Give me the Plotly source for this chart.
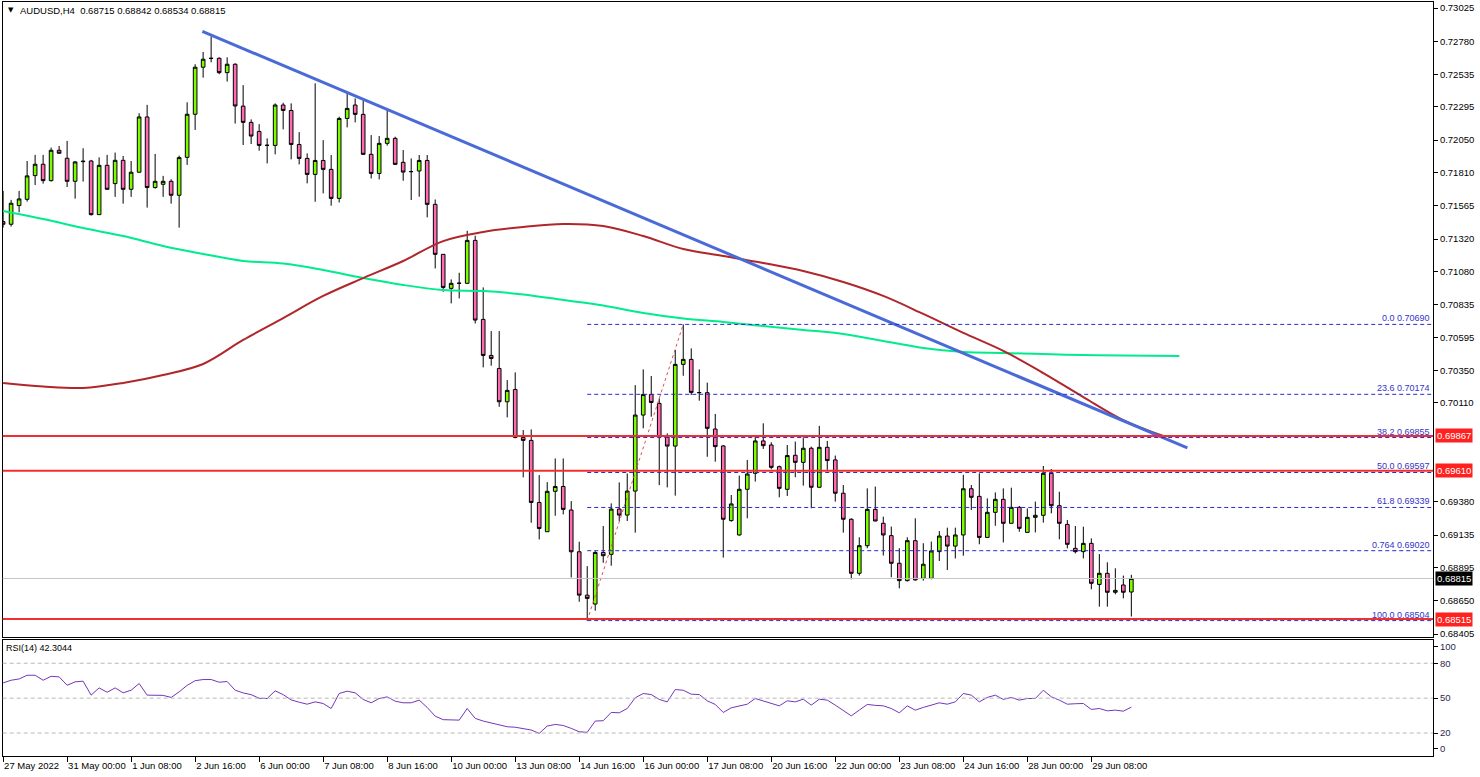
import plotly.graph_objects as go

# ---------------- data ----------------
opens = [0.71449,0.71429,0.71567,0.71613,0.71788,0.71872,0.71751,0.71975,0.71916,0.71746,
         0.71891,0.71896,0.71500,0.71864,0.71729,0.71901,0.71687,0.71813,0.72221,0.71700,
         0.71724,0.71746,0.71643,0.71923,0.72241,0.72588,0.72652,0.72654,0.72548,0.72610,
         0.72301,0.72181,0.72114,0.72011,0.72011,0.72309,0.72269,0.72018,0.71915,0.71797,
         0.71900,0.71834,0.71620,0.72210,0.72309,0.72240,0.71945,0.71804,0.72026,0.72063,
         0.71886,0.71817,0.71822,0.71900,0.71576,0.71207,0.70956,0.70993,0.70993,0.71310,
         0.70727,0.70461,0.70365,0.70119,0.70210,0.69856,0.69834,0.69376,0.69160,0.69458,
         0.69494,0.69320,0.69012,0.68692,0.68626,0.69007,0.68993,0.69327,0.69283,0.69460,
         0.70021,0.70173,0.70107,0.69861,0.69792,0.70395,0.70432,0.70186,0.70186,0.69918,
         0.69793,0.69242,0.69136,0.69473,0.69591,0.69830,0.69800,0.69640,0.69473,0.69724,
         0.69672,0.69776,0.69488,0.69783,0.69690,0.69444,0.69252,0.68853,0.69057,0.69325,
         0.69222,0.69131,0.68927,0.68799,0.69094,0.68816,0.68816,0.69013,0.69128,0.69054,
         0.69136,0.69477,0.69421,0.69118,0.69303,0.69399,0.69222,0.69340,0.69155,0.69266,
         0.69281,0.69591,0.69352,0.69214,0.69037,0.69013,0.69074,0.68771,0.68853,0.68713,
         0.68767,0.68715]
highs = [0.71675,0.71609,0.71675,0.71896,0.71941,0.71941,0.71995,0.72007,0.72044,0.71896,
         0.71990,0.71904,0.71923,0.71941,0.71958,0.71933,0.71896,0.72248,0.72310,0.71948,
         0.71786,0.71761,0.71936,0.72329,0.72610,0.72701,0.72814,0.72661,0.72661,0.72617,
         0.72456,0.72203,0.72168,0.72063,0.72321,0.72326,0.72321,0.72109,0.71952,0.72469,
         0.72050,0.71940,0.72223,0.72395,0.72358,0.72341,0.72087,0.72080,0.72272,0.72075,
         0.71977,0.71915,0.71940,0.71940,0.71612,0.71208,0.71022,0.71071,0.71381,0.71344,
         0.70963,0.70641,0.70641,0.70279,0.70336,0.69910,0.69915,0.69578,0.69526,0.69701,
         0.69701,0.69386,0.69086,0.68906,0.69017,0.69202,0.69369,0.69524,0.69590,0.70242,
         0.70358,0.70309,0.70144,0.69886,0.70501,0.70690,0.70513,0.70358,0.70260,0.70029,
         0.69800,0.69431,0.69574,0.69690,0.69862,0.69960,0.69820,0.69648,0.69800,0.69825,
         0.69857,0.69788,0.69941,0.69830,0.69722,0.69505,0.69259,0.69119,0.69480,0.69493,
         0.69271,0.69198,0.69038,0.69119,0.69259,0.69075,0.69087,0.69165,0.69190,0.69190,
         0.69580,0.69505,0.69591,0.69406,0.69450,0.69480,0.69485,0.69350,0.69332,0.69382,
         0.69645,0.69623,0.69455,0.69246,0.69202,0.69197,0.69111,0.68995,0.68934,0.68890,
         0.68836,0.68842]
lows = [0.71404,0.71412,0.71517,0.71596,0.71719,0.71729,0.71744,0.71950,0.71704,0.71618,
        0.71744,0.71493,0.71498,0.71685,0.71631,0.71581,0.71631,0.71810,0.71552,0.71692,
        0.71631,0.71581,0.71404,0.71867,0.72125,0.72511,0.72624,0.72536,0.72482,0.72172,
        0.72014,0.72021,0.71972,0.71878,0.71945,0.72129,0.71908,0.71871,0.71731,0.71595,
        0.71657,0.71566,0.71590,0.72144,0.72181,0.71943,0.71767,0.71760,0.72009,0.71869,
        0.71750,0.71608,0.71632,0.71480,0.71103,0.70931,0.70845,0.70882,0.70990,0.70697,
        0.70373,0.70385,0.70082,0.70004,0.69849,0.69561,0.69226,0.69103,0.69158,0.69278,
        0.69288,0.68823,0.68643,0.68504,0.68577,0.68931,0.68909,0.69239,0.69239,0.69153,
        0.69923,0.70009,0.69504,0.69487,0.69426,0.70311,0.70169,0.70127,0.69713,0.69677,
        0.68969,0.69234,0.69131,0.69259,0.69530,0.69771,0.69621,0.69414,0.69424,0.69562,
        0.69500,0.69333,0.69486,0.69616,0.69382,0.69153,0.68809,0.68836,0.69038,0.69237,
        0.68984,0.68824,0.68742,0.68792,0.68799,0.68799,0.68809,0.68944,0.68877,0.68963,
        0.68983,0.69320,0.69067,0.69116,0.69204,0.69081,0.69220,0.69160,0.69153,0.69155,
        0.69227,0.69296,0.69104,0.69037,0.69000,0.68963,0.68735,0.68607,0.68607,0.68698,
        0.68668,0.68534]
closes = [0.71429,0.71584,0.71616,0.71786,0.71872,0.71751,0.71975,0.71953,0.71746,0.71889,
          0.71894,0.71500,0.71864,0.71687,0.71901,0.71687,0.71813,0.72221,0.71700,0.71746,
          0.71746,0.71643,0.71921,0.72241,0.72588,0.72647,0.72654,0.72548,0.72610,0.72302,
          0.72181,0.72080,0.72011,0.72012,0.72309,0.72269,0.72018,0.71915,0.71797,0.71900,
          0.71834,0.71620,0.72210,0.72284,0.72240,0.71945,0.71804,0.72026,0.72063,0.71871,
          0.71814,0.71818,0.71900,0.71576,0.71207,0.70963,0.70993,0.70994,0.71310,0.70722,
          0.70461,0.70439,0.70119,0.70203,0.69856,0.69834,0.69376,0.69184,0.69458,0.69494,
          0.69325,0.69012,0.68692,0.68668,0.69007,0.68983,0.69327,0.69283,0.69460,0.70021,
          0.70173,0.70114,0.69861,0.69792,0.70395,0.70432,0.70188,0.70187,0.69923,0.69788,
          0.69252,0.69365,0.69473,0.69586,0.69830,0.69795,0.69635,0.69480,0.69722,0.69672,
          0.69776,0.69488,0.69783,0.69685,0.69444,0.69252,0.68853,0.69057,0.69325,0.69239,
          0.69136,0.68927,0.68799,0.69094,0.68804,0.68920,0.69018,0.69128,0.69054,0.69136,
          0.69477,0.69414,0.69118,0.69303,0.69399,0.69222,0.69340,0.69185,0.69266,0.69281,
          0.69591,0.69352,0.69222,0.69067,0.69013,0.69074,0.68779,0.68853,0.68713,0.68727,
          0.68713,0.68815]
bars = list(range(len(closes)))

rsi = [63.1,65.4,66.5,69.7,69.7,65.4,68.8,68.3,61.1,64.0,
       64.6,52.6,58.8,55.1,58.8,54.6,56.8,62.6,52.6,52.6,
       52.4,50.6,55.4,61.0,65.0,66.0,66.0,63.7,64.3,56.8,
       54.5,53.0,49.9,49.7,56.3,53.0,48.5,46.5,44.8,46.8,
       45.4,41.1,54.0,56.0,54.6,48.9,46.0,49.7,51.1,47.4,
       46.0,46.0,48.3,42.0,34.5,31.5,31.1,31.1,41.1,32.6,
       30.3,28.8,26.8,25.4,25.0,24.0,22.6,19.7,26.0,27.4,
       26.5,24.0,21.1,20.6,30.3,30.6,37.7,37.4,41.1,50.3,
       54.0,53.1,48.9,46.8,57.4,56.8,53.4,53.1,47.7,44.6,
       37.7,41.7,43.4,44.8,49.7,47.4,45.5,43.4,47.7,46.8,
       49.1,44.0,49.1,48.3,44.0,39.5,34.8,39.7,44.6,43.8,
       43.4,41.1,37.4,43.4,39.7,42.0,44.0,46.0,44.8,46.8,
       54.0,52.6,46.8,50.6,52.6,48.9,50.6,48.3,49.7,49.7,
       56.8,51.1,48.3,44.8,45.2,45.4,40.3,41.1,39.1,39.7,
       38.8,42.3]
rsi_last_text = "42.3044"

ma_red_x = [0,5,10,15,20,25,30,35,40,45,50,55,60,65,70,75,80,85,90,95,100,105,110,115,120,125,130,135,140,145]
ma_red = [0.70258,0.70232,0.70221,0.70258,0.70317,0.70398,0.70575,0.70737,0.70900,0.71032,
          0.71158,0.71305,0.71372,0.71409,0.71431,0.71416,0.71342,0.71246,0.71195,0.71143,
          0.71084,0.71003,0.70900,0.70767,0.70627,0.70494,0.70331,0.70154,0.69984,0.69866]
ma_green_x = [0,5,10,15,20,25,30,35,40,45,50,55,60,65,70,75,80,85,90,95,100,105,110,115,120,125,130,135,140,147]
ma_green = [0.71527,0.71468,0.71401,0.71342,0.71269,0.71210,0.71158,0.71139,0.71091,0.71032,
            0.70981,0.70944,0.70936,0.70911,0.70870,0.70829,0.70774,0.70734,0.70708,0.70678,
            0.70649,0.70619,0.70567,0.70516,0.70486,0.70479,0.70471,0.70464,0.70460,0.70457]

trend_x = [24.9, 148.0]
trend_y = [0.72853, 0.69778]

fib_start = 73
fib_end_bar = 85
fib_pct = ["0.0", "23.6", "38.2", "50.0", "61.8", "0.764", "100.0"]
fib_val = [0.70690, 0.70174, 0.69855, 0.69597, 0.69339, 0.69020, 0.68504]

red_levels = [0.69867, 0.69610, 0.68515]
last_price = 0.68815

price_ticks = [0.73025,0.72780,0.72535,0.72295,0.72050,0.71810,0.71565,0.71320,0.71080,
               0.70835,0.70595,0.70350,0.70110,0.69380,0.69135,0.68895,0.68650,0.68405]
date_tick_bars = [0,8,16,24,32,40,48,56,64,72,80,88,96,104,112,120,128,136]
date_tick_text = ["27 May 2022","31 May 00:00","1 Jun 08:00","2 Jun 16:00","6 Jun 00:00",
                  "7 Jun 08:00","8 Jun 16:00","10 Jun 00:00","13 Jun 08:00","14 Jun 16:00",
                  "16 Jun 00:00","17 Jun 08:00","20 Jun 16:00","22 Jun 00:00","23 Jun 08:00",
                  "24 Jun 16:00","28 Jun 00:00","29 Jun 08:00"]
rsi_tick_vals = [6.3, 20, 50, 80, 94.5]
rsi_tick_text = ["0", "20", "50", "80", "100"]
rsi_levels = [20, 50, 80]

# ---------------- layout geometry ----------------
W, H = 1480, 777
FONT = "Liberation Sans"
xl, xr = 2.7 / W, 1433 / W
main_dom = [1 - 637 / H, 1 - 2 / H]
rsi_dom = [1 - 756.3 / H, 1 - 640 / H]
x_range = [-0.05, 178.7]
y_range = [0.683830, 0.730693]

fig = go.Figure()

# moving averages
fig.add_trace(go.Scatter(x=ma_green_x, y=ma_green, mode="lines", line_shape="spline",
                         line=dict(color="#00ec8c", width=2), hoverinfo="skip"))
fig.add_trace(go.Scatter(x=ma_red_x, y=ma_red, mode="lines", line_shape="spline",
                         line=dict(color="#b0262a", width=2), hoverinfo="skip"))

# candles
fig.add_trace(go.Candlestick(
    x=bars, open=opens, high=highs, low=lows, close=closes,
    increasing=dict(fillcolor="#7CFC00", line=dict(color="black", width=1)),
    decreasing=dict(fillcolor="#FF69B4", line=dict(color="black", width=1)),
    whiskerwidth=0, hoverinfo="skip", xaxis="x", yaxis="y"))

# trendline
fig.add_trace(go.Scatter(x=trend_x, y=trend_y, mode="lines",
                         line=dict(color="#4a6ad8", width=3), hoverinfo="skip"))

# fib base dotted line
fig.add_trace(go.Scatter(x=[fib_start, fib_end_bar], y=[fib_val[-1], fib_val[0]], mode="lines",
                         line=dict(color="#e05050", width=1, dash="dot"), hoverinfo="skip"))

# RSI
fig.add_trace(go.Scatter(x=bars, y=rsi, mode="lines", line=dict(color="#7436b8", width=1),
                         xaxis="x2", yaxis="y2", hoverinfo="skip"))

shapes = []
shapes.append(dict(type="line", xref="x domain", yref="y", x0=0, x1=1, y0=last_price, y1=last_price,
                   line=dict(color="#c4c4c4", width=1)))
for v in fib_val:
    shapes.append(dict(type="line", xref="x", yref="y", x0=fib_start, x1=x_range[1], y0=v, y1=v,
                       line=dict(color="#2a2ad0", width=1, dash="4px,3px")))
for v in red_levels:
    shapes.append(dict(type="line", xref="x domain", yref="y", x0=0, x1=1, y0=v, y1=v,
                       line=dict(color="#f03030", width=2)))
for v in rsi_levels:
    shapes.append(dict(type="line", xref="x2 domain", yref="y2", x0=0, x1=1, y0=v, y1=v,
                       line=dict(color="#b8b8b8", width=1, dash="4px,3px")))

annotations = []
for p, v in zip(fib_pct, fib_val):
    annotations.append(dict(xref="paper", yref="y", x=1432 / W, y=v, xanchor="right", yanchor="bottom",
                            text=f"{p} {v:.5f}", showarrow=False,
                            font=dict(family=FONT, size=9, color="#3434c8"), yshift=-1))
for v in red_levels:
    annotations.append(dict(xref="paper", yref="y", x=1435 / W, y=v, xanchor="left", yanchor="middle",
                            text=f"{v:.5f}", showarrow=False, bgcolor="#ff2020", borderpad=1,
                            font=dict(family=FONT, size=9.5, color="white")))
annotations.append(dict(xref="paper", yref="y", x=1435 / W, y=last_price, xanchor="left", yanchor="middle",
                        text=f"{last_price:.5f}", showarrow=False, bgcolor="black", borderpad=1,
                        font=dict(family=FONT, size=9.5, color="white")))
annotations.append(dict(xref="paper", yref="paper", x=6 / W, y=1 - 10 / H, xanchor="left", yanchor="middle",
                        text="▼", showarrow=False, font=dict(family="DejaVu Sans", size=7, color="black")))
annotations.append(dict(xref="paper", yref="paper", x=18 / W, y=1 - 10 / H, xanchor="left", yanchor="middle",
                        text=f"AUDUSD,H4  {opens[-1]:.5f} {highs[-1]:.5f} {lows[-1]:.5f} {closes[-1]:.5f}",
                        showarrow=False, font=dict(family=FONT, size=9.5, color="black")))
annotations.append(dict(xref="paper", yref="paper", x=4 / W, y=1 - 648 / H, xanchor="left", yanchor="middle",
                        text=f"RSI(14) {rsi_last_text}", showarrow=False,
                        font=dict(family=FONT, size=9, color="black")))

axis_common = dict(showgrid=False, zeroline=False, showline=True, mirror=True,
                   linecolor="black", linewidth=1, automargin=False)

fig.update_layout(
    width=W, height=H, margin=dict(l=0, r=0, t=0, b=0, autoexpand=False),
    paper_bgcolor="white", plot_bgcolor="white", showlegend=False,
    font=dict(family=FONT, size=9, color="black"),
    boxgap=0.35,
    shapes=shapes, annotations=annotations,
    xaxis=dict(domain=[xl, xr], range=x_range, anchor="y", showticklabels=False, ticks="",
               rangeslider=dict(visible=False), **axis_common),
    yaxis=dict(domain=main_dom, range=y_range, side="right", anchor="x",
               tickvals=price_ticks, ticktext=[f"{v:.5f}" for v in price_ticks],
               ticks="outside", ticklen=4, tickcolor="black",
               tickfont=dict(family=FONT, size=9.5, color="black"), **axis_common),
    xaxis2=dict(domain=[xl, xr], range=x_range, anchor="y2", matches="x",
                tickvals=date_tick_bars, ticktext=date_tick_text, ticks="outside", ticklen=5,
                tickcolor="black", ticklabelposition="outside right", tickangle=0,
                tickfont=dict(family=FONT, size=9.5, color="black"), **axis_common),
    yaxis2=dict(domain=rsi_dom, range=[0, 100], side="right", anchor="x2",
                tickvals=rsi_tick_vals, ticktext=rsi_tick_text, ticks="outside", ticklen=4,
                tickcolor="black", tickfont=dict(family=FONT, size=9.5, color="#2a2a50"), **axis_common),
)

fig.write_html("out.html", config={"displayModeBar": False},
               post_script="document.body.style.margin='0';document.body.style.overflow='hidden';")
